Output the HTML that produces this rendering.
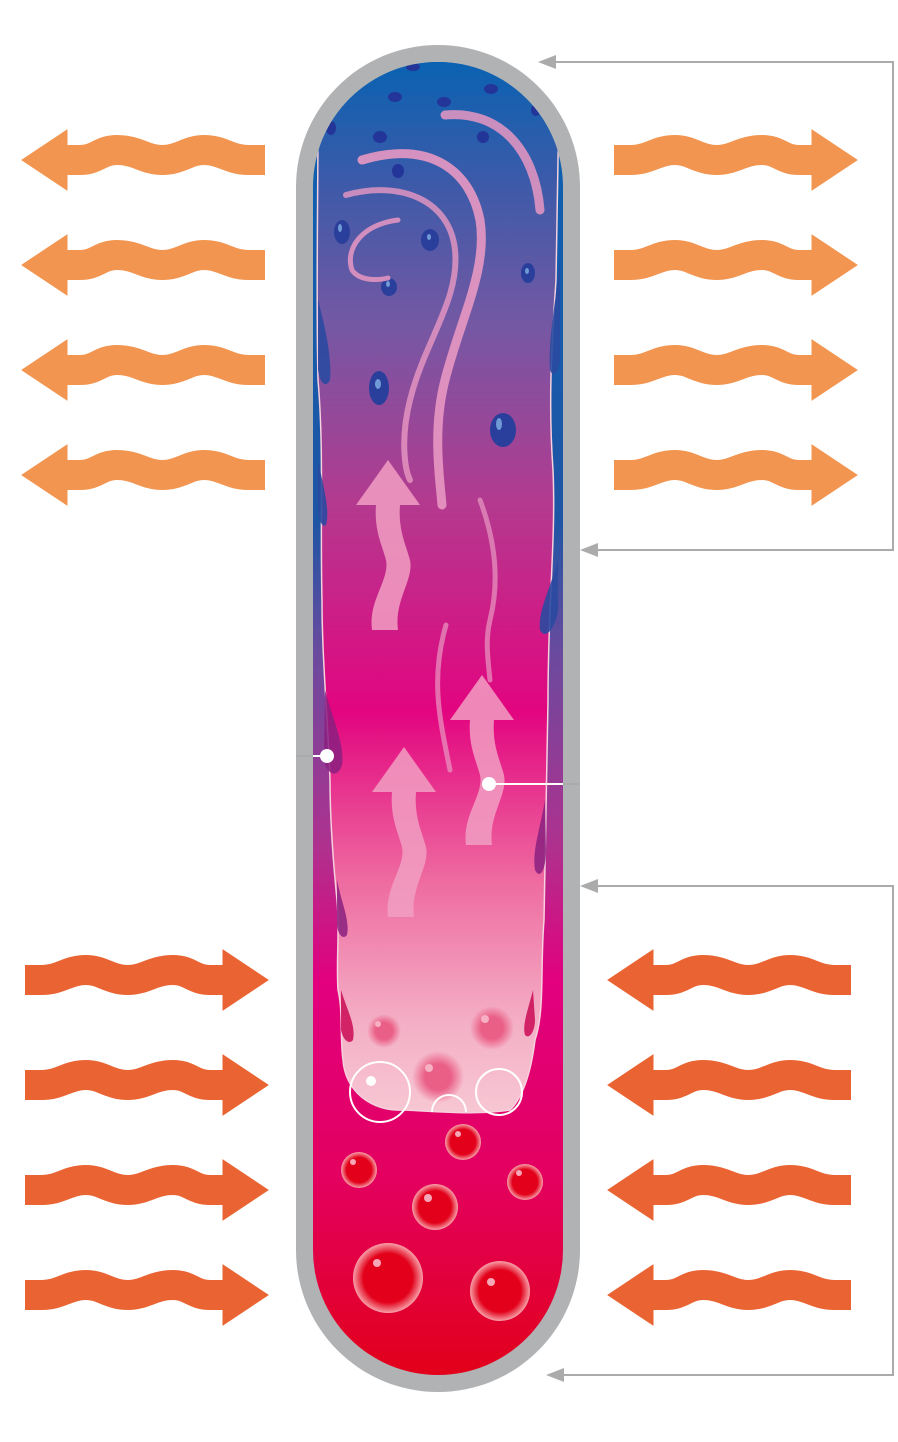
<!DOCTYPE html>
<html><head><meta charset="utf-8"><style>html,body{margin:0;padding:0;background:#fff}svg{display:block}</style></head>
<body>
<svg width="898" height="1442" viewBox="0 0 898 1442" xmlns="http://www.w3.org/2000/svg">
<defs>
<clipPath id="tc"><rect x="313" y="62" width="250" height="1313" rx="125"/></clipPath>
<linearGradient id="tube" x1="0" y1="62" x2="0" y2="1375" gradientUnits="userSpaceOnUse">
<stop offset="0" stop-color="#0a62b2"/>
<stop offset="0.35" stop-color="#1f55a5"/>
<stop offset="0.45" stop-color="#6a4a9e"/>
<stop offset="0.6" stop-color="#b0308e"/>
<stop offset="0.7" stop-color="#e2007f"/>
<stop offset="0.85" stop-color="#e3005f"/>
<stop offset="1" stop-color="#e2001a"/>
</linearGradient>
<linearGradient id="body" x1="0" y1="62" x2="0" y2="1110" gradientUnits="userSpaceOnUse">
<stop offset="0" stop-color="#0a62b2"/>
<stop offset="0.12" stop-color="#3e5aa8"/>
<stop offset="0.25" stop-color="#7458a4"/>
<stop offset="0.42" stop-color="#b33a8f"/>
<stop offset="0.62" stop-color="#e2057f"/>
<stop offset="0.78" stop-color="#ee6aa0"/>
<stop offset="0.92" stop-color="#f4b0c6"/>
<stop offset="1" stop-color="#f7c6d3"/>
</linearGradient>
<radialGradient id="bub" cx="0.5" cy="0.5" r="0.5">
<stop offset="0.7" stop-color="#e2001a"/>
<stop offset="1" stop-color="#f7a0a8"/>
</radialGradient>
<radialGradient id="pbub" cx="0.5" cy="0.5" r="0.5">
<stop offset="0.5" stop-color="#ea5f86"/>
<stop offset="1" stop-color="#ea5f86" stop-opacity="0"/>
</radialGradient>
<g id="wl">
<path d="M60 160 L80 160 C97 160,100 150,117 150 C137 150,145 160,162 160 C180 160,188 150,204 150 C222 150,230 160,248 160 L265 160" fill="none" stroke-width="30"/>
<polygon points="22,160 67,130 67,190"/>
</g>
<g id="up">
<path d="M0 0 L-32 45 L-12 45 C-14 70,-6 85,-2 100 C2 120,-20 140,-16 170 L10 170 C6 140,26 120,22 100 C18 85,10 70,12 45 L32 45 Z"/>
</g>
</defs>

<!-- connector lines -->
<g stroke="#ababab" stroke-width="2" fill="none">
<polyline points="552,62 893,62 893,550 594,550"/>
<polyline points="594,886 893,886 893,1375 560,1375"/>
</g>
<g fill="#ababab">
<polygon points="538,62 556,55 556,69"/>
<polygon points="580,550 598,543 598,557"/>
<polygon points="580,886 598,879 598,893"/>
<polygon points="546,1375 564,1368 564,1382"/>
</g>

<!-- tube -->
<rect x="296" y="45" width="284" height="1347" rx="142" fill="#b1b2b4"/>
<g clip-path="url(#tc)">
<rect x="313" y="62" width="250" height="1313" fill="url(#tube)"/>

<!-- inner body -->
<path d="M318 40 L560 40 C558 120,557 200,556 280 C552 340,548 400,553 470 C556 540,548 600,548 700 C546 800,545 870,544 920 C540 970,545 1010,535 1040 C530 1080,520 1100,510 1110 C480 1115,440 1112,405 1110 C370 1112,345 1090,343 1060 C340 1040,343 1010,338 990 C336 960,340 930,337 900 C333 860,330 820,330 780 C328 720,322 660,322 600 C320 520,324 450,318 380 C316 300,318 200,318 120 Z" fill="url(#body)" stroke="#f6d0dc" stroke-width="1.5"/>

<!-- side drips -->
<g fill="#2a4aa0" opacity="0.9">
<path d="M318 300 C326 330,332 360,330 380 C326 388,320 384,318 370 Z"/>
<path d="M318 460 C324 490,330 510,326 525 C322 528,318 520,318 505 Z"/>
<path d="M560 260 C556 300,548 340,550 370 C554 380,560 372,560 355 Z"/>
<path d="M558 560 C550 590,538 610,540 630 C545 640,555 630,558 610 Z"/>
</g>
<g fill="#8a2080" opacity="0.85">
<path d="M325 690 C333 720,345 745,342 765 C338 778,327 776,324 760 Z"/>
<path d="M545 800 C540 830,532 850,535 870 C540 880,546 870,546 850 Z"/>
<path d="M337 880 C342 905,350 920,347 935 C343 940,338 935,337 925 Z"/>
</g>
<g fill="#c8004e" opacity="0.8">
<path d="M341 990 C347 1010,356 1025,353 1040 C349 1045,343 1040,341 1030 Z"/>
<path d="M533 990 C528 1010,522 1025,525 1035 C530 1040,535 1030,535 1020 Z"/>
</g>

<!-- top dots -->
<g fill="#24359a">
<ellipse cx="395" cy="97" rx="7" ry="5"/><ellipse cx="444" cy="102" rx="7" ry="5"/>
<ellipse cx="491" cy="89" rx="7" ry="5"/><ellipse cx="380" cy="137" rx="7" ry="6"/>
<ellipse cx="483" cy="137" rx="6" ry="6"/><ellipse cx="398" cy="171" rx="6" ry="7"/>
<ellipse cx="413" cy="67" rx="7" ry="4"/><ellipse cx="331" cy="128" rx="5" ry="7"/>
<ellipse cx="536" cy="110" rx="5" ry="6"/>
</g>
<g fill="#2a3f9c">
<ellipse cx="342" cy="232" rx="8" ry="12"/><ellipse cx="430" cy="240" rx="9" ry="11"/>
<ellipse cx="389" cy="287" rx="8" ry="9"/><ellipse cx="528" cy="273" rx="7" ry="10"/>
<ellipse cx="379" cy="388" rx="10" ry="17"/><ellipse cx="503" cy="430" rx="13" ry="17"/>
</g>
<g fill="#6f9ad6">
<ellipse cx="340" cy="228" rx="2" ry="4"/><ellipse cx="429" cy="237" rx="2" ry="3"/>
<ellipse cx="388" cy="284" rx="2" ry="3"/><ellipse cx="527" cy="271" rx="2" ry="3"/>
<ellipse cx="378" cy="384" rx="3" ry="5"/><ellipse cx="499" cy="424" rx="3" ry="6"/>
</g>

<!-- swirls -->
<g fill="none" stroke="#e898c2" stroke-linecap="round">
<path d="M362 160 C430 140,470 170,480 220 C488 270,460 320,445 380 C432 430,440 480,442 505" stroke-width="9" opacity="0.9"/>
<path d="M445 115 C500 110,535 150,540 210" stroke-width="9" opacity="0.85"/>
<path d="M346 195 C400 180,450 200,455 250 C460 300,425 340,410 400 C400 440,405 470,410 480" stroke-width="6" opacity="0.8"/>
<path d="M398 220 C360 225,345 250,352 270 C360 282,380 280,388 278" stroke-width="5" opacity="0.85"/>
<path d="M480 500 C495 540,500 580,490 620 C485 640,488 660,490 680" stroke-width="5" opacity="0.7"/>
<path d="M446 625 C430 680,440 720,450 770" stroke-width="5" opacity="0.7"/>
</g>

<g fill="#f29fc3" opacity="0.85">
<use href="#up" transform="translate(388,460)"/>
<use href="#up" transform="translate(482,675)"/>
<use href="#up" transform="translate(404,747)"/>
</g>

<circle cx="384" cy="1031" r="17" fill="url(#pbub)"/>
<circle cx="492" cy="1028" r="22" fill="url(#pbub)"/>
<circle cx="438" cy="1077" r="26" fill="url(#pbub)"/>
<g fill="none" stroke="#fff" stroke-width="2">
<circle cx="380" cy="1092" r="30"/><circle cx="499" cy="1092" r="23"/><path d="M432 1112 A17 17 0 0 1 466 1112"/>
</g>
<circle cx="371" cy="1081" r="5" fill="#fff"/>
<g fill="#f6b0c4"><circle cx="378" cy="1024" r="3"/><circle cx="485" cy="1019" r="4"/><circle cx="429" cy="1068" r="4"/></g>

<circle cx="463" cy="1142" r="18" fill="url(#bub)"/>
<circle cx="359" cy="1170" r="18" fill="url(#bub)"/>
<circle cx="525" cy="1182" r="18" fill="url(#bub)"/>
<circle cx="435" cy="1207" r="23" fill="url(#bub)"/>
<circle cx="388" cy="1278" r="35" fill="url(#bub)"/>
<circle cx="500" cy="1291" r="30" fill="url(#bub)"/>
<g fill="#f7a8b8">
<circle cx="458" cy="1134" r="3"/><circle cx="353" cy="1162" r="3"/><circle cx="519" cy="1173" r="3"/>
<circle cx="428" cy="1198" r="4"/><circle cx="377" cy="1263" r="4"/><circle cx="491" cy="1282" r="4"/>
</g>
</g>

<!-- pointers -->
<line x1="296" y1="756" x2="313" y2="756" stroke="#ababab" stroke-width="2"/>
<line x1="313" y1="756" x2="327" y2="756" stroke="#fff" stroke-width="2"/>
<line x1="489" y1="784" x2="563" y2="784" stroke="#fff" stroke-width="2"/>
<line x1="563" y1="784" x2="580" y2="784" stroke="#ababab" stroke-width="2"/>
<circle cx="327" cy="756" r="7" fill="#fff"/>
<circle cx="489" cy="784" r="7" fill="#fff"/>

<g fill="#f29550" stroke="#f29550">
<use href="#wl"/>
<use href="#wl" transform="translate(0,105)"/>
<use href="#wl" transform="translate(0,210)"/>
<use href="#wl" transform="translate(0,315)"/>
<use href="#wl" transform="translate(879,0) scale(-1,1)"/>
<use href="#wl" transform="translate(879,105) scale(-1,1)"/>
<use href="#wl" transform="translate(879,210) scale(-1,1)"/>
<use href="#wl" transform="translate(879,315) scale(-1,1)"/>
</g>
<g fill="#ea6433" stroke="#ea6433">
<use href="#wl" transform="translate(290,820) scale(-1,1)"/>
<use href="#wl" transform="translate(290,925) scale(-1,1)"/>
<use href="#wl" transform="translate(290,1030) scale(-1,1)"/>
<use href="#wl" transform="translate(290,1135) scale(-1,1)"/>
<use href="#wl" transform="translate(586,820)"/>
<use href="#wl" transform="translate(586,925)"/>
<use href="#wl" transform="translate(586,1030)"/>
<use href="#wl" transform="translate(586,1135)"/>
</g>
</svg>
</body></html>
